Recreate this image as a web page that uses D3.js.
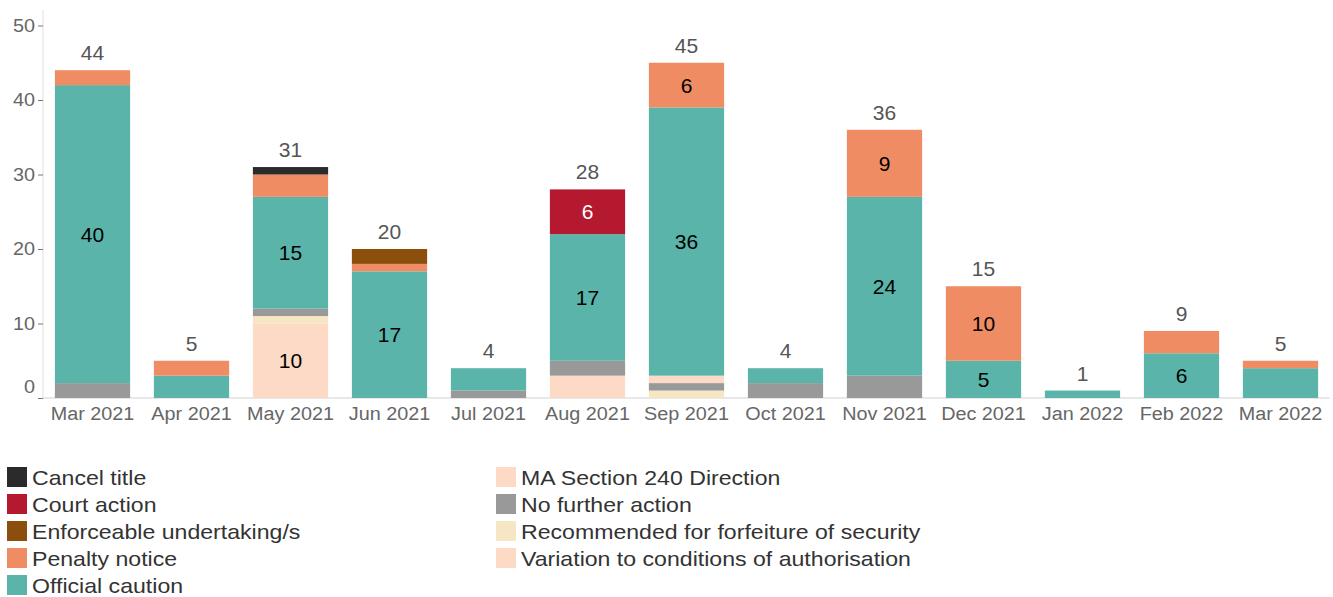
<!DOCTYPE html>
<html><head><meta charset="utf-8">
<script src="https://cdn.jsdelivr.net/npm/d3@7"></script>
<style>
body{margin:0;background:#fff;}
text{font-family:"Liberation Sans",Arial,sans-serif;}
</style></head>
<body><svg id="c" width="1333" height="597"></svg>
<script>
const months = ["Mar 2021","Apr 2021","May 2021","Jun 2021","Jul 2021","Aug 2021","Sep 2021","Oct 2021","Nov 2021","Dec 2021","Jan 2022","Feb 2022","Mar 2022"];
const legendOrder = ["Cancel title","Court action","Enforceable undertaking/s","Penalty notice","Official caution","MA Section 240 Direction","No further action","Recommended for forfeiture of security","Variation to conditions of authorisation"];
// stacked bottom -> top
const stackOrder = ["Variation to conditions of authorisation","Recommended for forfeiture of security","No further action","MA Section 240 Direction","Official caution","Penalty notice","Enforceable undertaking/s","Court action","Cancel title"];
const colors = ["#2b2b2b","#b5192f","#8b4e0c","#f08c63","#5ab4aa","#fcdac5","#999999","#f6e6c3","#fcdac5"];
const cancelTitle   = [0,0,1,0,0,0,0,0,0,0,0,0,0];
const courtAction   = [0,0,0,0,0,6,0,0,0,0,0,0,0];
const enforceable   = [0,0,0,2,0,0,0,0,0,0,0,0,0];
const penaltyNotice = [2,2,3,1,0,0,6,0,9,10,0,3,1];
const officialCaution=[40,3,15,17,3,17,36,2,24,5,1,6,4];
const maSection240  = [0,0,0,0,0,0,1,0,0,0,0,0,0];
const noFurther     = [2,0,1,0,1,2,1,2,3,0,0,0,0];
const recommended   = [0,0,1,0,0,0,1,0,0,0,0,0,0];
const variation     = [0,0,10,0,0,3,0,0,0,0,0,0,0];
const yTicks = [0,10,20,30,40,50];

const seriesVals = {
  "Cancel title":cancelTitle,"Court action":courtAction,"Enforceable undertaking/s":enforceable,
  "Penalty notice":penaltyNotice,"Official caution":officialCaution,"MA Section 240 Direction":maSection240,
  "No further action":noFurther,"Recommended for forfeiture of security":recommended,
  "Variation to conditions of authorisation":variation};
const color = d3.scaleOrdinal().domain(legendOrder).range(colors);
const rows = months.map((m,i)=>{const r={month:m}; legendOrder.forEach(k=>r[k]=seriesVals[k][i]); return r;});
const stacked = d3.stack().keys(stackOrder)(rows);
const totals = rows.map(r=>d3.sum(legendOrder,k=>r[k]));

function stretch(sel, f){
  sel.each(function(){
    const L = this.getComputedTextLength();
    d3.select(this).attr("textLength", L*f).attr("lengthAdjust","spacingAndGlyphs");
  });
}

const svg = d3.select("#c");
const pL=43, pR=1330, pT=10, pB=398;
const x = d3.scaleBand().domain(months).range([pL,pR]).paddingInner(0.24).paddingOuter(0.12);
const y = d3.scaleLinear().domain([0,50]).range([pB,25.5]);

// axes lines
svg.append("line").attr("x1",pL).attr("x2",pL).attr("y1",pT).attr("y2",pB).attr("stroke","#e0e0e0");
svg.append("line").attr("x1",pL).attr("x2",pR).attr("y1",pB).attr("y2",pB).attr("stroke","#e0e0e0").attr("stroke-width",1.5);

const yAxis = svg.append("g").attr("transform",`translate(${pL},0)`)
  .call(d3.axisLeft(y).tickValues(yTicks).tickSize(5).tickPadding(3));
yAxis.select(".domain").remove();
yAxis.selectAll(".tick line").attr("stroke","#777");
yAxis.selectAll(".tick text").attr("fill","#666").style("font-size","18px")
  .attr("dy",d=>d===0?"-0.3em":"0.32em").call(stretch,1.1);

const xAxis = svg.append("g").attr("transform",`translate(0,${pB})`)
  .call(d3.axisBottom(x).tickSize(0).tickPadding(9));
xAxis.select(".domain").remove();
xAxis.selectAll(".tick text").attr("fill","#666").style("font-size","18px").call(stretch,1.1);

// bars
const g = svg.append("g");
stacked.forEach(s=>{
  g.selectAll(null).data(s).enter().append("rect")
    .attr("x",d=>x(d.data.month)).attr("width",x.bandwidth())
    .attr("y",d=>y(d[1])).attr("height",d=>y(d[0])-y(d[1]))
    .attr("fill",color(s.key));
  g.selectAll(null).data(s.filter(d=>d[1]-d[0]>=5)).enter().append("text")
    .attr("x",d=>x(d.data.month)+x.bandwidth()/2).attr("y",d=>(y(d[0])+y(d[1]))/2)
    .attr("dy","0.36em").attr("text-anchor","middle").style("font-size","21px")
    .attr("fill",s.key==="Court action"?"#fff":"#000").text(d=>d[1]-d[0]);
});
// totals
svg.selectAll(".tot").data(months).enter().append("text")
  .attr("x",m=>x(m)+x.bandwidth()/2).attr("y",(m,i)=>y(totals[i])-10)
  .attr("text-anchor","middle").style("font-size","21px").attr("fill","#555").text((m,i)=>totals[i]);

// legend
const leg = svg.append("g");
legendOrder.forEach((k,i)=>{
  const col = i<5?0:1, row = i<5?i:i-5;
  const lx = col===0?7:496, ly = 467+row*27;
  leg.append("rect").attr("x",lx).attr("y",ly).attr("width",20).attr("height",20).attr("fill",color(k));
  leg.append("text").attr("x",lx+25).attr("y",ly+10).attr("dy","0.36em").style("font-size","21px").attr("fill","#333").text(k)
    .call(stretch,1.1);
});
</script></body></html>
